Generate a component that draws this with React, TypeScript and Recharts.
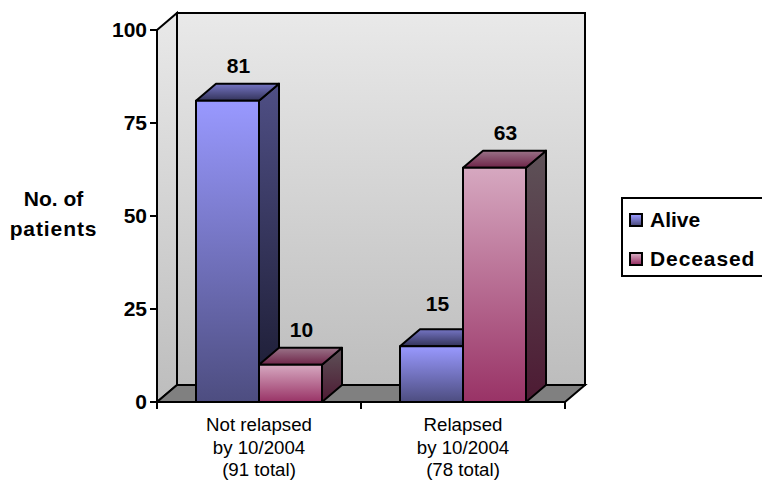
import { Bar, BarChart, LabelList, XAxis, YAxis, usePlotArea } from 'recharts';

// Patient outcomes by relapse status, drawn as pseudo-3D columns

const categories = ['Not relapsed|by 10/2004|(91 total)', 'Relapsed|by 10/2004|(78 total)'];
const alive = [81, 15];
const deceased = [10, 63];
const yTicks = [0, 25, 50, 75, 100];
const yTitle = ['No. of', 'patients'];

const rows = categories.map((name, i) => ({ name, alive: alive[i], deceased: deceased[i] }));

const DX = 20;
const DY = 17;
const FONT = '"Liberation Sans", Arial, sans-serif';

const pts = (list: number[][]) => list.map((p) => p.join(',')).join(' ');

function Gradient({ id, from, to }: { id: string; from: string; to: string }) {
  return (
    <linearGradient id={id} x1="0" y1="0" x2="0" y2="1">
      <stop offset="0%" stopColor={from} />
      <stop offset="100%" stopColor={to} />
    </linearGradient>
  );
}

// walls, floor and category tick marks, sized from the plot area
function Backdrop() {
  const area = usePlotArea();
  if (!area) return null;
  const { x, y, width, height } = area;
  const b = y + height;
  const r = x + width;
  return (
    <g>
      <defs>
        <Gradient id="wall" from="#e9e9e9" to="#bdbdbd" />
        <Gradient id="aliveFront" from="#9999ff" to="#4d4d80" />
        <Gradient id="aliveTop" from="#7575c4" to="#33335a" />
        <Gradient id="aliveSide" from="#4f4f85" to="#1a1a30" />
        <Gradient id="deadFront" from="#d6a8c0" to="#993366" />
        <Gradient id="deadTop" from="#9a7388" to="#6e2448" />
        <Gradient id="deadSide" from="#5e5258" to="#4d1a33" />
      </defs>
      <rect x={x + DX} y={y - DY} width={width} height={height} fill="url(#wall)" stroke="#000" strokeWidth={2} />
      <polygon
        points={pts([[x, y], [x + DX, y - DY], [x + DX, b - DY], [x, b]])}
        fill="url(#wall)"
        stroke="#000"
        strokeWidth={2}
      />
      <polygon
        points={pts([[x, b], [x + DX, b - DY], [r + DX, b - DY], [r, b]])}
        fill="#808080"
        stroke="#000"
        strokeWidth={2}
      />
      {[0, 1, 2].map((i) => (
        <line key={i} x1={x + (i * width) / 2} x2={x + (i * width) / 2} y1={b} y2={b + 7} stroke="#000" strokeWidth={2} />
      ))}
      <text textAnchor="middle" fontFamily={FONT} fontSize={21} fontWeight="bold" fill="#000">
        {yTitle.map((line, i) => (
          <tspan key={line} x={53.5} y={205.5 + i * 30.5} letterSpacing={i * 0.9}>
            {line}
          </tspan>
        ))}
      </text>
    </g>
  );
}

function Column({ x, y, width, height, prefix }: any) {
  const right = x + width;
  const bottom = y + height;
  return (
    <g stroke="#000" strokeWidth={2} strokeLinejoin="round">
      <polygon
        points={pts([[right, y], [right + DX, y - DY], [right + DX, bottom - DY], [right, bottom]])}
        fill={`url(#${prefix}Side)`}
      />
      <polygon
        points={pts([[x, y], [x + DX, y - DY], [right + DX, y - DY], [right, y]])}
        fill={`url(#${prefix}Top)`}
      />
      <rect x={x} y={y} width={width} height={height} fill={`url(#${prefix}Front)`} />
    </g>
  );
}

function ValueLabel({ x, y, width, value }: any) {
  // the short column beside the tall one gets its label pulled away from it
  const crowded = value === 15;
  return (
    <text
      x={x + width / 2 + DX / 2 + (crowded ? -4 : 1)}
      y={y - DY - (crowded ? 18 : 11)}
      textAnchor="middle"
      fontFamily={FONT}
      fontSize={21}
      fontWeight="bold"
      fill="#000"
    >
      {value}
    </text>
  );
}

function CategoryTick({ x, y, payload }: any) {
  return (
    <text textAnchor="middle" fontFamily={FONT} fontSize={18.7} fill="#000">
      {String(payload.value)
        .split('|')
        .map((line, i) => (
          <tspan key={line} x={x} y={y + 21 + i * 22.5}>
            {line}
          </tspan>
        ))}
    </text>
  );
}

function LegendBox() {
  const entries = [
    { label: 'Alive', from: '#9999ff', to: '#4d4d80', spacing: 0 },
    { label: 'Deceased', from: '#d6a8c0', to: '#993366', spacing: 0.9 },
  ];
  return (
    <div
      style={{
        position: 'absolute',
        left: 621,
        top: 197,
        width: 160,
        height: 80,
        boxSizing: 'border-box',
        border: '2px solid #000',
        background: '#fff',
        fontFamily: FONT,
        fontSize: 21,
        fontWeight: 'bold',
        color: '#000',
        padding: '1px 0 0 6px',
      }}
    >
      {entries.map((e) => (
        <div key={e.label} style={{ display: 'flex', alignItems: 'center', height: 39, letterSpacing: e.spacing }}>
          <span
            style={{
              width: 10,
              height: 10,
              border: '2px solid #000',
              marginRight: 7,
              background: `linear-gradient(${e.from}, ${e.to})`,
            }}
          />
          {e.label}
        </div>
      ))}
    </div>
  );
}

export default function App() {
  return (
    <div style={{ position: 'absolute', left: 0, top: 0, width: 762, height: 480, overflow: 'hidden', background: '#fff' }}>
      <BarChart
        width={762}
        height={480}
        data={rows}
        margin={{ top: 30, right: 197, bottom: 0, left: 0 }}
        barCategoryGap={39}
        barGap={0}
      >
        <Backdrop />
        <XAxis
          dataKey="name"
          height={78}
          interval={0}
          tick={<CategoryTick />}
          tickLine={false}
          axisLine={{ stroke: '#000', strokeWidth: 2 }}
        />
        <YAxis
          width={157}
          domain={[0, 100]}
          ticks={yTicks}
          tickSize={7}
          tickMargin={3}
          tickLine={{ stroke: '#000', strokeWidth: 2 }}
          axisLine={{ stroke: '#000', strokeWidth: 2 }}
          tick={{ fontFamily: FONT, fontSize: 21, fontWeight: 'bold', fill: '#000' }}
        />
        <Bar dataKey="alive" name="Alive" isAnimationActive={false} shape={(p: any) => <Column {...p} prefix="alive" />}>
          <LabelList dataKey="alive" content={<ValueLabel />} />
        </Bar>
        <Bar dataKey="deceased" name="Deceased" isAnimationActive={false} shape={(p: any) => <Column {...p} prefix="dead" />}>
          <LabelList dataKey="deceased" content={<ValueLabel />} />
        </Bar>
      </BarChart>
      <LegendBox />
    </div>
  );
}
